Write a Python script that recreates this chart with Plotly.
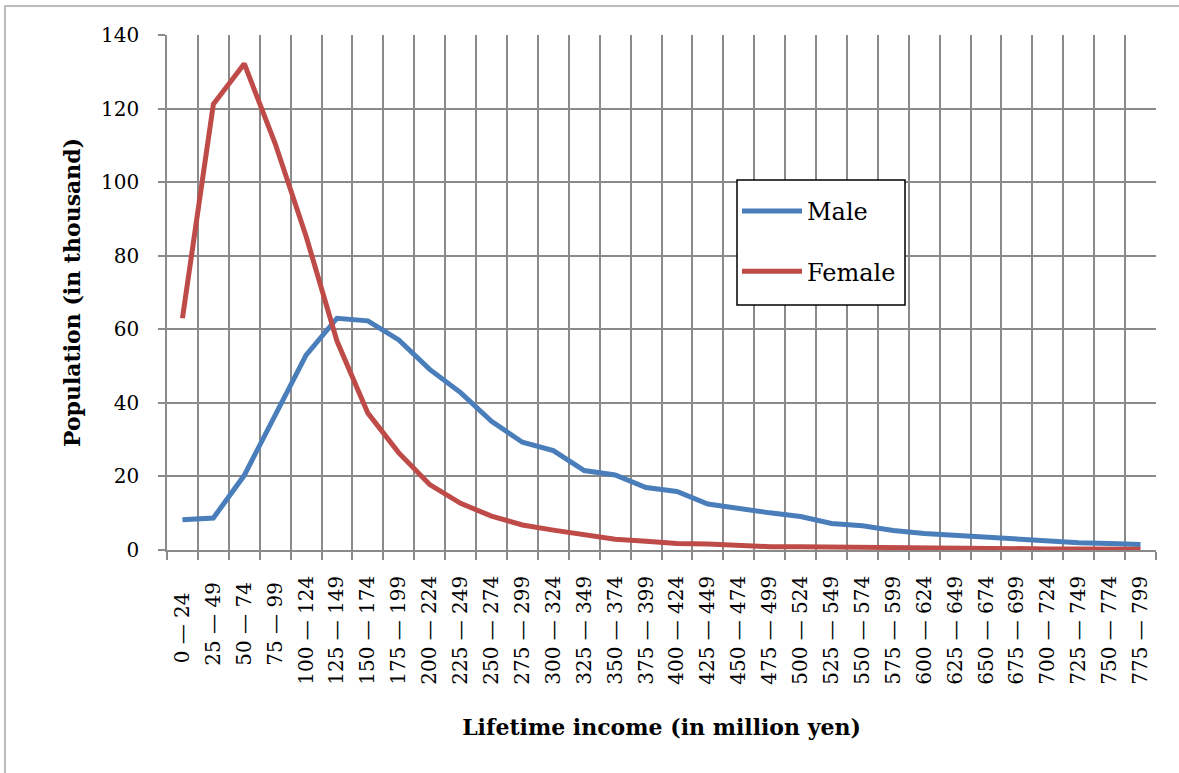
import plotly.graph_objects as go

categories = ["0—24", "25—49", "50—74", "75—99", "100—124", "125—149", "150—174", "175—199",
              "200—224", "225—249", "250—274", "275—299", "300—324", "325—349", "350—374", "375—399",
              "400—424", "425—449", "450—474", "475—499", "500—524", "525—549", "550—574", "575—599",
              "600—624", "625—649", "650—674", "675—699", "700—724", "725—749", "750—774", "775—799"]

male = [8.2, 8.7, 20.3, 36.8, 53.0, 63.0, 62.3, 57.1, 49.1, 42.8, 35.0, 29.3,
        27.0, 21.6, 20.4, 17.0, 15.9, 12.5, 11.2, 10.1, 9.1, 7.2, 6.6, 5.3,
        4.5, 4.0, 3.4, 2.8, 2.2, 2.0, 1.8, 1.5]

female = [63.0, 121.2, 132.2, 110.5, 85.3, 56.8, 37.2, 26.4, 17.8, 12.7, 9.2, 6.8,
          5.4, 4.1, 2.9, 2.4, 1.8, 1.6, 1.2, 0.9, 0.9, 0.8, 0.7, 0.5,
          0.4, 0.4, 0.3, 0.3, 0.3, 0.3, 0.2, 0.2]

y_ticks = [0, 20, 40, 60, 80, 100, 120, 140]

FONT = "DejaVu Serif"
GRID = "#8a8a8a"


def fmt_label(c):
    # Spacing around the dash, and trailing padding so shorter labels sit a bit lower
    nd = sum(ch.isdigit() for ch in c)
    s = c.replace("—", "\u2008—\u2008")
    if nd <= 3:
        s += "\u2007\u2009"
    elif nd <= 4:
        s += "\u2008"
    return s


tick_text = [fmt_label(c) for c in categories]

fig = go.Figure()
fig.add_trace(go.Scatter(x=categories, y=male, mode="lines", name="Male",
                         line=dict(color="#4A7EBB", width=5), legendgroup="m"))
fig.add_trace(go.Scatter(x=categories, y=female, mode="lines", name="Female",
                         line=dict(color="#BE4B48", width=5), legendgroup="f"))

W, H = 1179, 773
L, T = 167, 35
R = W - 1156
B = H - 550
pw, ph = W - L - R, H - T - B


def px(x):
    return (x - L) / pw


def py(y):
    return (H - B - y) / ph


fig.update_layout(
    width=W, height=H,
    margin=dict(l=L, r=R, t=T, b=B),
    paper_bgcolor="white", plot_bgcolor="white",
    font=dict(family=FONT, color="black", size=18),
    showlegend=True,
    legend=dict(x=px(737), y=py(189), xanchor="left", yanchor="top",
                bgcolor="rgba(0,0,0,0)", borderwidth=0,
                font=dict(family=FONT, size=24, color="black"),
                tracegroupgap=26, itemwidth=60),
    shapes=[
        dict(type="rect", xref="paper", yref="paper",
             x0=px(5), x1=px(1190), y0=py(790), y1=py(6),
             line=dict(color="#a6a6a6", width=1.5), fillcolor="rgba(0,0,0,0)", layer="below"),
        dict(type="rect", xref="paper", yref="paper",
             x0=px(737), x1=px(905), y0=py(305), y1=py(180),
             line=dict(color="black", width=1.5), fillcolor="white", layer="above"),
    ],
)

fig.update_xaxes(
    type="category", range=[-0.5, len(categories) - 0.5],
    tickmode="array", tickvals=categories, ticktext=tick_text,
    tickson="boundaries", ticks="outside", ticklen=8, tickcolor=GRID, tickwidth=1.5,
    showgrid=True, gridcolor=GRID, gridwidth=1.5,
    showline=True, linecolor=GRID, linewidth=1.5,
    tickangle=-90, tickfont=dict(family=FONT, size=20),
    ticklabelstandoff=16,
    title=dict(text="<b>Lifetime income (in million yen)</b>", font=dict(family=FONT, size=22),
               standoff=36),
)
fig.update_yaxes(
    range=[0, 140], tickvals=y_ticks,
    ticks="outside", ticklen=7, tickcolor=GRID, tickwidth=1.5,
    showgrid=True, gridcolor=GRID, gridwidth=1.5,
    showline=True, linecolor=GRID, linewidth=1.5,
    zeroline=False,
    tickfont=dict(family=FONT, size=20),
    ticklabelstandoff=15,
    title=dict(text="<b>Population (in thousand)</b>", font=dict(family=FONT, size=22),
               standoff=14),
)

fig.write_html("out.html", config={"displayModeBar": False},
               post_script="document.body.style.margin='0';")
